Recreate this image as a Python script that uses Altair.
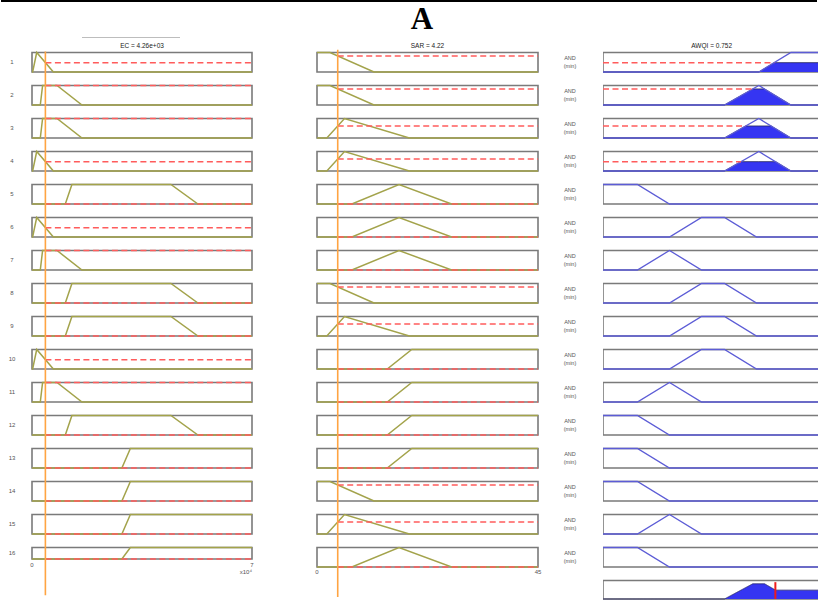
import altair as alt
import numpy as np
import pandas as pd

# ---------------- data ----------------
EC_VALUE = 4260.0
SAR_VALUE = 4.22
AWQI_VALUE = 0.752

EC_RANGE = [0.0, 70000.0]
SAR_RANGE = [0.0, 45.0]
AWQI_RANGE = [0.0, 0.96]
AWQI_VISIBLE = [0.0, 0.938]   # part of the AWQI axis visible inside the frame

# membership functions as trapezoids [a, b, c, d]
EC_SETS = {
    "A": [200, 1500, 1500, 6800],
    "B": [2640, 3370, 7950, 15900],
    "C": [10600, 12700, 44200, 52800],
    "D": [28600, 31300, 70000, 70000],
}
SAR_SETS = {
    "P": [0.0, 0.0, 2.65, 11.6],
    "Q": [2.0, 5.6, 5.6, 18.8],
    "R": [7.1, 16.7, 16.7, 27.4],
    "S": [14.3, 19.3, 45.0, 45.0],
}
AWQI_SETS = {
    "Z1": [0.0, 0.0, 0.15, 0.29],
    "T2": [0.15, 0.29, 0.29, 0.43],
    "T1": [0.29, 0.43, 0.53, 0.67],
    "T3": [0.53, 0.68, 0.68, 0.82],
    "T4": [0.68, 0.82, 0.96, 0.96],
}

EC_RULES = ["A", "B", "B", "A", "C", "A", "B", "C", "C", "A", "B", "C", "D", "D", "D", "D"]
SAR_RULES = ["P", "P", "Q", "Q", "R", "R", "R", "P", "Q", "S", "S", "S", "S", "P", "Q", "R"]
AWQI_RULES = ["T4", "T3", "T3", "T3", "Z1", "T1", "T2", "T1", "T1", "T1", "T2", "Z1", "Z1", "Z1", "T2", "Z1"]

EC_TICK_VALUES = [0.0, 70000.0]
EC_TICK_LABELS = ["0", "7"]
EC_EXPONENT = "x10⁴"
SAR_TICK_VALUES = [0.0, 45.0]
SAR_TICK_LABELS = ["0", "45"]

# ---------------- layout / style ----------------
ROW_PX = 33.0
H = 566
Y_DOM = [-0.5, H / ROW_PX - 0.5]
BOX = 19.5 / ROW_PX
EC_LAST = 11.5 / ROW_PX
OUT = 18.5 / ROW_PX
N = len(EC_RULES)
W1, W2, W3 = 220, 221, 215
GAP = 65

OLIVE = "#a3a34b"
BLUE_LINE = "#5c5cd6"
BLUE_FILL = "#3535f2"
RED_D = "#ff5c5c"
ORANGE = "#ffa442"
BOX_C = "#7a7a7a"
TXT = "#555555"
FONT = "Liberation Sans"


def trap(x, p):
    a, b, c, d = p
    if x < a or x > d:
        return 0.0
    if b <= x <= c:
        return 1.0
    if x < b:
        return (x - a) / (b - a)
    return (d - x) / (d - c)


def mf_points(p, lo, hi, extra=()):
    return sorted(set([lo, hi] + [v for v in list(p) + list(extra) if lo <= v <= hi]))


ec_h = [BOX] * (N - 1) + [EC_LAST]
sar_h = [BOX] * N
aw_h = [BOX] * N

mu_ec = [trap(EC_VALUE, EC_SETS[s]) for s in EC_RULES]
mu_sar = [trap(SAR_VALUE, SAR_SETS[s]) for s in SAR_RULES]
fire = [min(a, b) for a, b in zip(mu_ec, mu_sar)]


def line_df(rules, sets, heights, rng):
    recs = []
    for i, s in enumerate(rules):
        r = i + 1
        for j, x in enumerate(mf_points(sets[s], rng[0], rng[1])):
            recs.append(dict(row=r, ord=j, x=x, y=(r - 1) + heights[i] * (1 - trap(x, sets[s]))))
    return pd.DataFrame(recs)


def box_df(heights, rng, extra_rows=()):
    recs = []
    for i, h in enumerate(heights):
        recs.append(dict(row=i + 1, x=rng[0], x2=rng[1], y=i, y2=i + h))
    for r, h in extra_rows:
        recs.append(dict(row=r, x=rng[0], x2=rng[1], y=r - 1, y2=r - 1 + h))
    return pd.DataFrame(recs)


Ysc = alt.Scale(domain=Y_DOM, reverse=True, nice=False, zero=False)


def X(field, dom):
    return alt.X(field, scale=alt.Scale(domain=dom, nice=False, zero=False), axis=None)


def Yf(field):
    return alt.Y(field, scale=Ysc, axis=None)


def boxes(df, dom, clip=False):
    return alt.Chart(df).mark_rect(fill="white", stroke=BOX_C, strokeWidth=1.6, clip=clip).encode(
        x=X("x:Q", dom), x2="x2:Q", y=Yf("y:Q"), y2="y2:Q")


def lines(df, dom, color, width, clip=False):
    return alt.Chart(df).mark_line(color=color, strokeWidth=width, clip=clip).encode(
        x=X("x:Q", dom), y=Yf("y:Q"), detail="row:N", order="ord:Q")


def areas(df, dom):
    return alt.Chart(df).mark_area(fill=BLUE_FILL, fillOpacity=1, orient="vertical",
                                   interpolate="linear").encode(
        x=X("x:Q", dom), y=Yf("y:Q"), y2=alt.Y2("yb"), detail="row:N")


def text_layer(df, dom, size, color=TXT, align="center", xval=None, **kw):
    enc = dict(y=Yf("y:Q"), text="label:N")
    if xval is None:
        enc["x"] = X("x:Q", dom)
    else:
        enc["x"] = alt.value(xval)
    return alt.Chart(df).mark_text(fontSize=size, color=color, align=align, baseline="middle",
                                   font=FONT, **kw).encode(**enc)


# ---------- column 1: EC ----------
ec_lines = line_df(EC_RULES, EC_SETS, ec_h, EC_RANGE)
ec_dash = pd.DataFrame([dict(x=EC_VALUE, x2=EC_RANGE[1], y=i + ec_h[i] * (1 - m)) for i, m in enumerate(mu_ec)])
row_labels = pd.DataFrame(dict(label=[str(i + 1) for i in range(N)], y=[i + ec_h[i] / 2 for i in range(N)]))
ec_ticks = pd.DataFrame(dict(x=EC_TICK_VALUES, label=EC_TICK_LABELS, y=[15 + EC_LAST + 0.18] * 2))
ec_exp = pd.DataFrame(dict(x=[EC_RANGE[1]], label=[EC_EXPONENT], y=[15 + EC_LAST + 0.4]))
ec_title = pd.DataFrame(dict(x=[sum(EC_RANGE) / 2], label=[f"EC = {EC_VALUE:.2e}"], y=[-0.2]))
ec_orange = pd.DataFrame(dict(x=[EC_VALUE], y=[-0.03], y2=[16.45]))

col1 = alt.layer(
    alt.Chart(pd.DataFrame({"a": [0]})).mark_rule(color="black", strokeWidth=2).encode(
        x=alt.value(-31), x2=alt.value(785), y=alt.value(-35)),
    alt.Chart(pd.DataFrame({"a": [0]})).mark_rule(color="#bdbdbd", strokeWidth=1).encode(
        x=alt.value(50), x2=alt.value(148), y=alt.value(1.5)),
    boxes(box_df(ec_h, EC_RANGE), EC_RANGE),
    lines(ec_lines, EC_RANGE, OLIVE, 1.5),
    alt.Chart(ec_dash).mark_rule(color=RED_D, strokeWidth=1.5, strokeDash=[6, 3.5]).encode(
        x=X("x:Q", EC_RANGE), x2="x2:Q", y=Yf("y:Q")),
    alt.Chart(ec_orange).mark_rule(color=ORANGE, strokeWidth=1.6).encode(
        x=X("x:Q", EC_RANGE), y=Yf("y:Q"), y2="y2:Q"),
    text_layer(row_labels, EC_RANGE, 6, xval=-20),
    text_layer(ec_ticks, EC_RANGE, 6),
    text_layer(ec_exp, EC_RANGE, 6, align="right"),
    text_layer(ec_title, EC_RANGE, 6.5, color="#222222"),
).properties(width=W1, height=H)

# ---------- column 2: SAR ----------
sar_lines = line_df(SAR_RULES, SAR_SETS, sar_h, SAR_RANGE)
sar_dash = pd.DataFrame([dict(x=SAR_VALUE, x2=SAR_RANGE[1], y=i + sar_h[i] * (1 - m)) for i, m in enumerate(mu_sar)])
sar_ticks = pd.DataFrame(dict(x=SAR_TICK_VALUES, label=SAR_TICK_LABELS, y=[15 + BOX + 0.16] * 2))
sar_title = pd.DataFrame(dict(x=[sum(SAR_RANGE) / 2], label=[f"SAR = {SAR_VALUE:.3g}"], y=[-0.2]))
sar_orange = pd.DataFrame(dict(x=[SAR_VALUE], y=[-0.08], y2=[16.5]))

col2 = alt.layer(
    boxes(box_df(sar_h, SAR_RANGE), SAR_RANGE),
    lines(sar_lines, SAR_RANGE, OLIVE, 1.5),
    alt.Chart(sar_dash).mark_rule(color=RED_D, strokeWidth=1.5, strokeDash=[6, 3.5]).encode(
        x=X("x:Q", SAR_RANGE), x2="x2:Q", y=Yf("y:Q")),
    alt.Chart(sar_orange).mark_rule(color=ORANGE, strokeWidth=1.6).encode(
        x=X("x:Q", SAR_RANGE), y=Yf("y:Q"), y2="y2:Q"),
    text_layer(sar_ticks, SAR_RANGE, 6),
    text_layer(sar_title, SAR_RANGE, 6.5, color="#222222"),
    alt.Chart(pd.DataFrame({"label": ["A"]})).mark_text(
        fontSize=31, font="Liberation Serif", fontWeight="bold", color="black",
        align="center", baseline="middle").encode(x=alt.value(105), y=alt.value(-16), text="label:N"),
).properties(width=W2, height=H)

# ---------- column 3: AWQI ----------
aw_lines = line_df(AWQI_RULES, AWQI_SETS, aw_h, AWQI_RANGE)
VIS_HI = AWQI_VISIBLE[1]

fill_recs, dash_recs = [], []
for i, s in enumerate(AWQI_RULES):
    w = fire[i]
    if w <= 0:
        continue
    a, b, c, d = AWQI_SETS[s]
    xr, xf = a + w * (b - a), d - w * (d - c)
    for j, x in enumerate(mf_points(AWQI_SETS[s], AWQI_RANGE[0], VIS_HI, extra=(xr, xf))):
        fill_recs.append(dict(row=i + 1, ord=j, x=x, y=i + aw_h[i] * (1 - min(trap(x, AWQI_SETS[s]), w)),
                              yb=i + aw_h[i]))
    dash_recs.append(dict(x=AWQI_RANGE[0], x2=xr, y=i + aw_h[i] * (1 - w)))
fill_df = pd.DataFrame(fill_recs)
dash_df = pd.DataFrame(dash_recs)

# aggregated output (max of the clipped consequents)
bps = [AWQI_RANGE[0], VIS_HI]
for s in AWQI_RULES:
    bps += [v for v in AWQI_SETS[s] if v <= VIS_HI]
grid = sorted(set(np.round(np.concatenate([np.linspace(AWQI_RANGE[0], VIS_HI, 939), bps]), 6)))
agg = [max(min(trap(x, AWQI_SETS[s]), fire[i]) for i, s in enumerate(AWQI_RULES)) for x in grid]
agg_df = pd.DataFrame(dict(x=grid, y=[N + OUT * (1 - v) for v in agg], yb=[N + OUT] * len(grid),
                           ord=range(len(grid)), row=[N + 1] * len(grid)))
and_df = pd.DataFrame(dict(label=["AND"] * N + ["(min)"] * N,
                           y=[i + BOX / 2 - 0.12 for i in range(N)] + [i + BOX / 2 + 0.11 for i in range(N)]))
aw_title = pd.DataFrame(dict(x=[0.5 * (AWQI_VISIBLE[0] + AWQI_VISIBLE[1]) + 0.005],
                             label=[f"AWQI = {AWQI_VALUE:.3g}"], y=[-0.2]))
aw_out = pd.DataFrame(dict(x=[AWQI_VALUE], y=[N + 0.05], y2=[N + OUT]))

col3 = alt.layer(
    boxes(box_df(aw_h, AWQI_RANGE, extra_rows=[(N + 1, OUT)]), AWQI_VISIBLE, clip=True),
    areas(fill_df, AWQI_VISIBLE),
    lines(fill_df, AWQI_VISIBLE, "#22225a", 0.8, clip=True),
    lines(aw_lines, AWQI_VISIBLE, BLUE_LINE, 1.3, clip=True),
    alt.Chart(dash_df).mark_rule(color=RED_D, strokeWidth=1.5, strokeDash=[6, 3.5], clip=True).encode(
        x=X("x:Q", AWQI_VISIBLE), x2="x2:Q", y=Yf("y:Q")),
    areas(agg_df, AWQI_VISIBLE),
    lines(agg_df, AWQI_VISIBLE, "#2a2a6a", 0.9, clip=True),
    alt.Chart(aw_out).mark_rule(color="#ee1c1c", strokeWidth=2, clip=True).encode(
        x=X("x:Q", AWQI_VISIBLE), y=Yf("y:Q"), y2="y2:Q"),
    text_layer(and_df, AWQI_VISIBLE, 5.5, xval=-33),
    text_layer(aw_title, AWQI_VISIBLE, 6.5, color="#222222"),
).properties(width=W3, height=H)

chart = alt.hconcat(col1, col2, col3, spacing=GAP, bounds="flush").properties(
    padding={"left": 0, "top": 0, "right": 0, "bottom": 0},
    background="white",
).configure_view(stroke=None)

chart.save("out.html", embed_options={"renderer": "svg", "actions": False})
